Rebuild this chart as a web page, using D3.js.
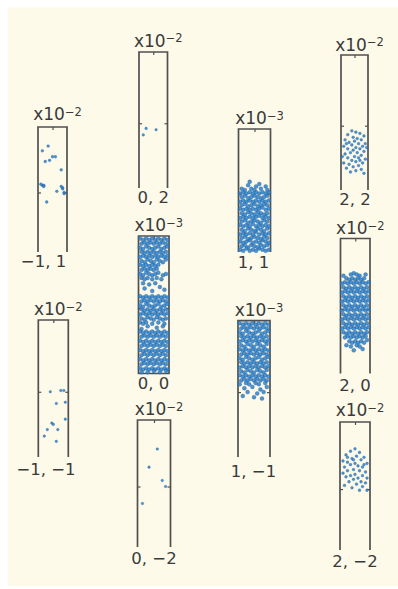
<!DOCTYPE html>
<html>
<head>
<meta charset="utf-8">
<script src="https://cdn.jsdelivr.net/npm/d3@7"></script>
<style>
  html, body { margin: 0; background: #fff; }
  svg { display: block; }
  text { font-family: "DejaVu Sans", sans-serif; fill: #3a3a3a; }
</style>
</head>
<body>
<div id="chart"></div>
<script>
// lattice sites (i, j) and the power of ten of each panel's scale
const siteLabels = ["−1, 1", "0, 2", "1, 1", "2, 2", "0, 0", "2, 0", "−1, −1", "1, −1", "0, −2", "2, −2"];
const siteExponents = ["−2", "−2", "−3", "−2", "−3", "−2", "−2", "−3", "−2", "−2"];

// samples per site: [jitter, value] ; value in units of the panel's x10^n
const ptsM1P1 = [[-3,8.9],[-7,8.5],[0,8.0],[-5,7.6],[-2,7.7],[2,8.0],[6,6.9],[-7,5.6],[-6,5.6],[-8,5.7],[-6,5.5],[6,5.5],[7,5.3],[7,5.4],[8,5.0],[8,4.9],[3,5.1],[-4,4.2]];
const pts0P2 = [[-5,4.6],[2,4.5],[-7,4.1]];
const pts11 = [
  [-9,0.2],[-7,0.1],[-5,0.3],[-3,0.1],[-1,0.2],[1,0.1],[3,0.3],[5,0.2],[7,0.1],[9,0.2],
  [-8,0.5],[-6,0.6],[-4,0.4],[-2,0.6],[0,0.5],[2,0.4],[4,0.6],[6,0.5],[8,0.6],
  [-9,0.9],[-7,0.8],[-5,0.9],[-3,1.0],[-1,0.8],[1,0.9],[3,0.8],[5,1.0],[7,0.9],[9,0.8],
  [-8,1.2],[-6,1.3],[-4,1.1],[-2,1.2],[0,1.3],[2,1.2],[4,1.1],[6,1.3],[8,1.2],
  [-9,1.5],[-7,1.6],[-5,1.5],[-3,1.6],[-1,1.5],[1,1.7],[3,1.5],[5,1.6],[7,1.5],[9,1.6],
  [-8,1.9],[-6,1.8],[-4,2.0],[-2,1.9],[0,1.8],[2,2.0],[4,1.9],[6,1.8],[8,2.0],
  [-9,2.3],[-7,2.2],[-5,2.3],[-3,2.2],[-1,2.4],[1,2.2],[3,2.3],[5,2.2],[7,2.3],[9,2.2],
  [-8,2.6],[-6,2.7],[-4,2.5],[-2,2.6],[0,2.7],[2,2.6],[4,2.5],[6,2.7],[8,2.6],
  [-9,2.9],[-7,3.0],[-5,2.9],[-3,3.0],[-1,2.9],[1,3.0],[3,3.1],[5,2.9],[7,3.0],[9,2.9],
  [-8,3.3],[-6,3.2],[-4,3.4],[-2,3.3],[0,3.2],[2,3.4],[4,3.3],[6,3.2],[8,3.3],
  [-9,3.7],[-7,3.6],[-5,3.7],[-3,3.6],[-1,3.7],[1,3.6],[3,3.7],[5,3.8],[7,3.6],[9,3.7],
  [-8,4.0],[-6,4.1],[-4,3.9],[-2,4.0],[0,4.1],[2,3.9],[4,4.0],[6,4.1],[8,4.0],
  [-9,4.3],[-7,4.4],[-5,4.3],[-3,4.4],[-1,4.3],[1,4.4],[3,4.3],[5,4.4],[7,4.3],[9,4.4],
  [-8,4.7],[-6,4.8],[-4,4.6],[-2,4.7],[0,4.8],[2,4.7],[4,4.6],[6,4.7],[8,4.8],
  [-9,5.0],[-7,5.1],[-5,5.0],[-3,5.1],[-1,5.0],[1,5.1],[3,5.0],[5,5.1],[7,5.0],[9,5.1],
  [-8,5.4],[-6,5.3],[-2,5.4],[0,5.3],[4,5.4],[8,5.3],
  [-4,5.7],[3,5.8],[-3,6.0],[7,5.6],[1,5.6]
];
const pts2P2 = [[-2,4.6],[1,4.5],[4,4.4],[-5,4.3],[7,4.2],[-1,4.1],[2,4.0],[-7,3.9],[5,3.9],[0,3.8],[-4,3.7],[3,3.6],[8,3.6],[-2,3.5],[6,3.4],[-8,3.4],[1,3.3],[-5,3.2],[4,3.2],[-1,3.1],[7,3.0],[-3,2.9],[2,2.9],[-7,2.8],[5,2.7],[0,2.6],[-5,2.5],[3,2.5],[8,2.4],[-2,2.3],[1,2.2],[-8,2.1],[6,2.1],[-4,2.0],[3,1.9],[-1,1.8],[-6,1.7],[5,1.6],[1,1.5],[7,1.3],[-3,1.4],[9,3.3],[-9,2.6],[-6,3.6],[4,2.3]];
const pts00 = [
  [-9,10.3],[-7,10.2],[-5,10.3],[-3,10.2],[-1,10.3],[1,10.2],[3,10.3],[5,10.2],[7,10.3],[9,10.2],
  [-8,9.9],[-6,10.0],[-4,9.9],[-2,10.0],[0,9.9],[2,10.0],[4,9.9],[6,10.0],[8,9.9],
  [-9,9.6],[-7,9.5],[-5,9.7],[-3,9.6],[-1,9.5],[1,9.6],[3,9.7],[5,9.5],[7,9.6],[9,9.7],
  [-8,9.3],[-6,9.2],[-4,9.3],[-2,9.2],[0,9.3],[2,9.2],[4,9.3],[6,9.2],[8,9.3],
  [-9,8.9],[-7,9.0],[-5,8.9],[-3,9.0],[-1,8.9],[1,9.0],[3,8.9],[5,9.0],[7,8.9],[9,9.0],
  [-8,8.6],[-6,8.5],[-4,8.7],[-2,8.6],[0,8.5],[2,8.7],[4,8.6],[6,8.5],[8,8.7],
  [-9,8.3],[-7,8.2],[-5,8.3],[-3,8.2],[-1,8.3],[1,8.2],[3,8.3],
  [-8,7.9],[-6,8.0],[-4,7.9],[-2,8.0],[0,7.9],[2,8.0],
  [-9,7.6],[-7,7.5],[-5,7.7],[-3,7.6],[-1,7.5],[1,7.6],[3,7.7],[6,7.5],[8,7.6],
  [-8,7.3],[-6,7.2],[-4,7.3],[-1,7.2],[2,7.3],[5,7.2],
  [-7,6.9],[-3,6.8],[1,6.9],[-6,6.5],[4,6.6],[-1,6.3],[7,6.4],
  [-9,5.9],[-7,5.8],[-5,5.9],[-3,5.8],[-1,5.9],[1,5.8],[3,5.9],[5,5.8],[7,5.9],[9,5.8],
  [-8,5.5],[-6,5.6],[-4,5.5],[-2,5.6],[0,5.5],[2,5.6],[4,5.5],[6,5.6],[8,5.5],
  [-9,5.2],[-7,5.1],[-5,5.3],[-3,5.2],[-1,5.1],[1,5.2],[3,5.3],[5,5.1],[7,5.2],[9,5.3],
  [-8,4.9],[-6,4.8],[-4,4.9],[-2,4.8],[0,4.9],[2,4.8],[4,4.9],[6,4.8],[8,4.9],
  [-9,4.5],[-7,4.6],[-5,4.5],[-3,4.6],[-1,4.5],[1,4.6],[3,4.5],[5,4.6],[7,4.5],[9,4.6],
  [-8,4.2],[-6,4.1],[-4,4.3],[-2,4.2],[0,4.1],[2,4.3],[4,4.2],[6,4.1],[8,4.2],
  [-9,3.9],[-7,3.8],[-5,3.9],[-1,3.8],[3,3.9],[7,3.8],
  [-4,3.6],[2,3.5],[6,3.6],[-8,3.4],
  [-9,3.2],[-7,3.1],[-5,3.2],[-3,3.1],[-1,3.2],[1,3.1],[3,3.2],[5,3.1],[7,3.2],[9,3.1],
  [-8,2.8],[-6,2.9],[-4,2.8],[-2,2.9],[0,2.8],[2,2.9],[4,2.8],[6,2.9],[8,2.8],
  [-9,2.5],[-7,2.4],[-5,2.5],[-3,2.4],[-1,2.5],[1,2.4],[3,2.5],[5,2.4],[7,2.5],[9,2.4],
  [-8,2.1],[-6,2.2],[-4,2.1],[-2,2.2],[0,2.1],[2,2.2],[4,2.1],[6,2.2],[8,2.1],
  [-9,1.8],[-7,1.7],[-5,1.8],[-3,1.7],[-1,1.8],[1,1.7],[3,1.8],[5,1.7],[7,1.8],[9,1.7],
  [-8,1.4],[-6,1.5],[-4,1.4],[-2,1.5],[0,1.4],[2,1.5],[4,1.4],[6,1.5],[8,1.4],
  [-9,1.1],[-7,1.0],[-5,1.1],[-3,1.0],[-1,1.1],[1,1.0],[3,1.1],[5,1.0],[7,1.1],[9,1.0],
  [-8,0.7],[-6,0.8],[-4,0.7],[-2,0.8],[0,0.7],[2,0.8],[4,0.7],[6,0.8],[8,0.7],
  [-9,0.4],[-7,0.3],[-5,0.4],[-3,0.3],[-1,0.4],[1,0.3],[3,0.4],[5,0.3],[7,0.4],[9,0.3],
  [-8,0.1],[-4,0.1],[0,0.2],[4,0.1],[8,0.2]
];
const pts20 = [
  [-3,7.7],[-1,7.8],[1,7.7],[3,7.6],
  [-6,7.4],[-4,7.3],[-2,7.4],[0,7.3],[2,7.4],[4,7.3],[6,7.4],
  [-9,7.0],[-7,7.1],[-5,7.0],[-3,7.1],[-1,7.0],[1,7.1],[3,7.0],[5,7.1],[7,7.0],[9,7.1],
  [-8,6.7],[-6,6.6],[-4,6.7],[-2,6.6],[0,6.7],[2,6.6],[4,6.7],[6,6.6],[8,6.7],
  [-9,6.3],[-7,6.4],[-5,6.3],[-3,6.4],[-1,6.3],[1,6.4],[3,6.3],[5,6.4],[7,6.3],[9,6.4],
  [-8,6.0],[-6,5.9],[-4,6.0],[-2,5.9],[0,6.0],[2,5.9],[4,6.0],[6,5.9],[8,6.0],
  [-9,5.6],[-7,5.7],[-5,5.6],[-3,5.7],[-1,5.6],[1,5.7],[3,5.6],[5,5.7],[7,5.6],[9,5.7],
  [-8,5.3],[-6,5.2],[-4,5.3],[-2,5.2],[0,5.3],[2,5.2],[4,5.3],[6,5.2],[8,5.3],
  [-9,4.9],[-7,5.0],[-5,4.9],[-3,5.0],[-1,4.9],[1,5.0],[3,4.9],[5,5.0],[7,4.9],[9,5.0],
  [-8,4.6],[-6,4.5],[-4,4.6],[-2,4.5],[0,4.6],[2,4.5],[4,4.6],[6,4.5],[8,4.6],
  [-9,4.2],[-7,4.3],[-5,4.2],[-3,4.3],[-1,4.2],[1,4.3],[3,4.2],[5,4.3],[7,4.2],[9,4.3],
  [-8,3.9],[-6,3.8],[-4,3.9],[-2,3.8],[0,3.9],[2,3.8],[4,3.9],[6,3.8],[8,3.9],
  [-9,3.5],[-7,3.6],[-5,3.5],[-3,3.6],[-1,3.5],[1,3.6],[3,3.5],[5,3.6],[7,3.5],[9,3.6],
  [-8,3.2],[-6,3.1],[-4,3.2],[-2,3.1],[0,3.2],[2,3.1],[4,3.2],[6,3.1],[8,3.2],
  [-7,2.8],[-5,2.9],[-3,2.8],[-1,2.9],[1,2.8],[3,2.9],[5,2.8],[7,2.9],
  [-4,2.5],[-2,2.4],[0,2.5],[2,2.4],[4,2.5],[6,2.4],
  [-3,2.1],[1,2.2],[3,2.1],
  [-1,1.8],[5,1.9],[-6,2.2],[8,2.6],[-8,7.6],[7,7.7]
];
const ptsM1M1 = [[-2,5.0],[5,5.1],[7,5.1],[2,4.1],[8,4.2],[8,2.9],[-1,2.6],[0,2.5],[-4,2.1],[3,2.1],[-6,1.6],[2,1.2]];
const pts1M1 = [
  [-9,10.3],[-7,10.2],[-5,10.3],[-3,10.2],[-1,10.3],[1,10.2],[3,10.3],[5,10.2],[7,10.3],[9,10.2],
  [-8,9.9],[-6,10.0],[-4,9.9],[-2,10.0],[0,9.9],[2,10.0],[4,9.9],[6,10.0],[8,9.9],
  [-9,9.6],[-7,9.5],[-5,9.7],[-3,9.6],[-1,9.5],[1,9.6],[3,9.7],[5,9.5],[7,9.6],[9,9.7],
  [-8,9.3],[-6,9.2],[-4,9.3],[-2,9.2],[0,9.3],[2,9.2],[4,9.3],[6,9.2],[8,9.3],
  [-9,8.9],[-7,9.0],[-5,8.9],[-3,9.0],[-1,8.9],[1,9.0],[3,8.9],[5,9.0],[7,8.9],[9,9.0],
  [-8,8.6],[-6,8.5],[-4,8.7],[-2,8.6],[0,8.5],[2,8.7],[4,8.6],[6,8.5],[8,8.7],
  [-9,8.3],[-7,8.2],[-5,8.3],[-3,8.2],[-1,8.3],[1,8.2],[3,8.3],[5,8.2],[7,8.3],[9,8.2],
  [-8,7.9],[-6,8.0],[-4,7.9],[-2,8.0],[0,7.9],[2,8.0],[4,7.9],[6,8.0],[8,7.9],
  [-9,7.6],[-7,7.5],[-5,7.7],[-3,7.6],[-1,7.5],[1,7.6],[3,7.7],[5,7.5],[7,7.6],[9,7.7],
  [-8,7.3],[-6,7.2],[-4,7.3],[-2,7.2],[0,7.3],[2,7.2],[4,7.3],[6,7.2],[8,7.3],
  [-9,6.9],[-7,7.0],[-5,6.9],[-3,7.0],[-1,6.9],[1,7.0],[3,6.9],[5,7.0],[7,6.9],[9,7.0],
  [-8,6.6],[-6,6.5],[-4,6.7],[-2,6.6],[0,6.5],[2,6.7],[4,6.6],[6,6.5],[8,6.7],
  [-9,6.3],[-7,6.2],[-5,6.3],[-3,6.2],[-1,6.3],[1,6.2],[3,6.3],[5,6.2],[7,6.3],[9,6.2],
  [-8,5.9],[-6,6.0],[-4,5.9],[-2,6.0],[0,5.9],[2,6.0],[4,5.9],[6,6.0],[8,5.9],
  [-9,5.6],[-5,5.7],[-3,5.6],[1,5.7],[3,5.6],[7,5.7],
  [-6,5.3],[-1,5.4],[4,5.2],[8,5.4],[-4,5.0],[2,4.9],[6,5.0],[-7,4.7],[0,4.6],[5,4.5]
];
const pts0M2 = [[2,8.1],[-3,6.6],[5,5.5],[7,5.0],[-7,3.6]];
const pts2M2 = [[0,8.3],[-3,8.1],[3,8.0],[-6,7.8],[1,7.7],[6,7.6],[-2,7.5],[4,7.4],[-8,7.3],[-5,7.2],[0,7.1],[8,7.1],[-3,7.0],[2,6.9],[-7,6.8],[5,6.8],[-1,6.6],[-5,6.5],[3,6.5],[7,6.4],[-8,6.3],[0,6.2],[-3,6.1],[5,6.1],[-6,6.0],[2,5.9],[8,5.9],[-1,5.8],[4,5.6],[-4,5.6],[7,5.5],[1,5.4],[-7,5.3],[5,5.2],[-2,5.1],[3,4.9],[8,4.9],[-5,7.6],[6,7.0],[-1,7.4]];
const sitePoints = [ptsM1P1, pts0P2, pts11, pts2P2, pts00, pts20, ptsM1M1, pts1M1, pts0M2, pts2M2];

// page layout of each panel (pixels): frame box, closed bottom, label / exponent baselines
const frames = [
  {x: 38,    y: 127,   w: 29,   h: 125,   closed: false, labelX: 43.5,  labelY: 267, expY: 120,  r: 1.4},
  {x: 139,   y: 52,    w: 28.5, h: 136,   closed: false, labelX: 153.3, labelY: 203, expY: 46.5, r: 1.3},
  {x: 238.5, y: 129,   w: 32,   h: 123,   closed: false, labelX: 253.5, labelY: 268, expY: 124,  r: 2.0},
  {x: 341,   y: 55,    w: 27,   h: 135,   closed: false, labelX: 355,   labelY: 205, expY: 50.5, r: 1.4},
  {x: 138.5, y: 236,   w: 30.5, h: 137.5, closed: true,  labelX: 153.5, labelY: 389, expY: 231,  r: 2.0},
  {x: 340.5, y: 238.5, w: 29.5, h: 135,   closed: false, labelX: 355,   labelY: 391, expY: 234,  r: 2.0},
  {x: 38.3,  y: 320,   w: 30,   h: 137,   closed: false, labelX: 46,    labelY: 475, expY: 315,  r: 1.3},
  {x: 238,   y: 320.7, w: 32,   h: 136.3, closed: false, labelX: 253.5, labelY: 477, expY: 316,  r: 2.0},
  {x: 137.5, y: 420,   w: 33,   h: 127,   closed: false, labelX: 154,   labelY: 564, expY: 415,  r: 1.3},
  {x: 340,   y: 422,   w: 30,   h: 128,   closed: false, labelX: 355,   labelY: 567, expY: 416,  r: 1.4}
];

const width = 398, height = 589;
const ink = "#505050", dotColor = "#2f80c8", dotEdge = "#1d5c98";

const svg = d3.select("#chart").append("svg")
  .attr("width", width)
  .attr("height", height);

svg.append("rect")
  .attr("x", 7.5).attr("y", 7.5)
  .attr("width", width - 7.5).attr("height", 578.5)
  .attr("fill", "#fdfaea");

siteLabels.forEach((label, i) => {
  const f = frames[i];
  const x = d3.scaleLinear().domain([-10, 10]).range([f.x, f.x + f.w]);
  const y = d3.scaleLinear().domain([0, 10.5]).range([f.y + f.h, f.y]);
  const g = svg.append("g");

  // frame: open at the bottom except for the 0,0 site
  const p = d3.path();
  p.moveTo(x(-10), y(0));
  p.lineTo(x(-10), y(10.5));
  p.lineTo(x(10), y(10.5));
  p.lineTo(x(10), y(0));
  if (f.closed) p.closePath();
  g.append("path")
    .attr("d", p.toString())
    .attr("fill", "none")
    .attr("stroke", ink)
    .attr("stroke-width", 1.7)
    .attr("stroke-linejoin", "miter");

  // inward ticks
  const tickStyle = sel => {
    sel.select(".domain").remove();
    sel.selectAll(".tick line").attr("stroke", ink).attr("stroke-width", 1.2);
    sel.selectAll(".tick text").remove();
  };
  g.append("g").attr("transform", `translate(0,${y(10.5)})`)
    .call(d3.axisTop(x).tickValues([0]).tickSize(-3).tickFormat(""))
    .call(tickStyle);
  g.append("g").attr("transform", `translate(${x(-10)},0)`)
    .call(d3.axisLeft(y).tickValues([5]).tickSize(-3).tickFormat(""))
    .call(tickStyle);
  g.append("g").attr("transform", `translate(${x(10)},0)`)
    .call(d3.axisRight(y).tickValues([5]).tickSize(-3).tickFormat(""))
    .call(tickStyle);

  g.append("g").selectAll("circle")
    .data(sitePoints[i])
    .join("circle")
    .attr("cx", d => x(d[0]))
    .attr("cy", d => y(d[1]))
    .attr("r", f.r)
    .attr("fill", dotColor)
    .attr("fill-opacity", 0.85)
    .attr("stroke", dotEdge)
    .attr("stroke-width", 0.5)
    .attr("stroke-opacity", 0.6);

  // scale factor above the frame
  const t = g.append("text")
    .attr("x", x(0) + 5)
    .attr("y", f.expY)
    .attr("text-anchor", "middle")
    .style("font-size", "17px");
  t.append("tspan").text("x10");
  t.append("tspan").attr("dy", -4.5).style("font-size", "11.5px").text(siteExponents[i]);

  // site label under the frame
  g.append("text")
    .attr("x", f.labelX)
    .attr("y", f.labelY)
    .attr("text-anchor", "middle")
    .style("font-size", "16.5px")
    .text(label);
});
</script>
</body>
</html>
